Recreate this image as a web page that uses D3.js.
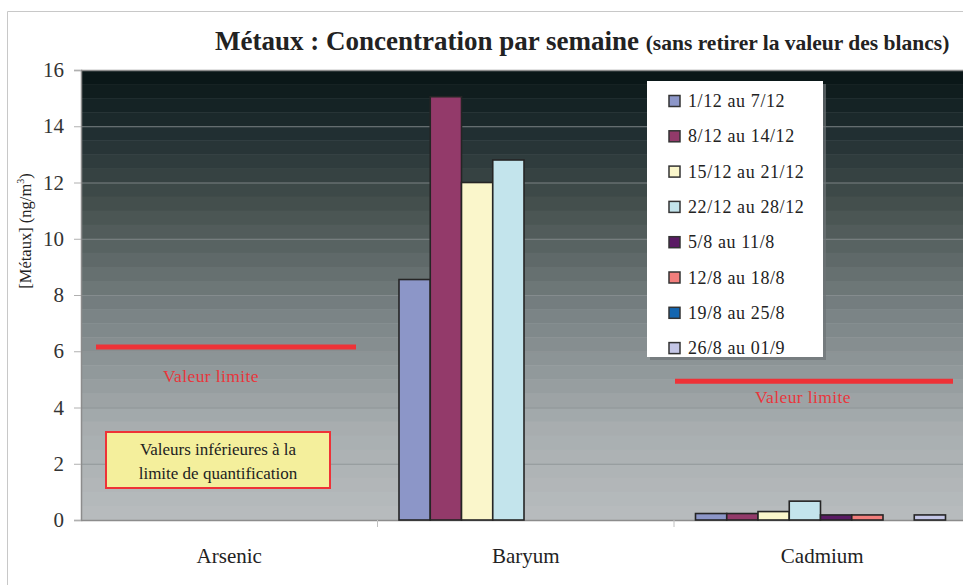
<!DOCTYPE html>
<html>
<head>
<meta charset="utf-8">
<script src="https://cdn.jsdelivr.net/npm/d3@7"></script>
<style>
  body { margin: 0; background: #fff; }
</style>
</head>
<body>
<div id="chart"></div>
<script>
// Data
var categories = ["Arsenic", "Baryum", "Cadmium"];
var series = ["1/12 au 7/12", "8/12 au 14/12", "15/12 au 21/12", "22/12 au 28/12",
  "5/8 au 11/8", "12/8 au 18/8", "19/8 au 25/8", "26/8 au 01/9"];
var colors = ["#8c96c8", "#933a6a", "#faf6cb", "#c3e4ec", "#5a1a64", "#f27e7c", "#1466b0", "#c4c6e6"];
var arsenic = [0, 0, 0, 0, 0, 0, 0, 0];
var baryum = [8.55, 15.05, 12.0, 12.8, 0, 0, 0, 0];
var cadmium = [0.23, 0.23, 0.3, 0.67, 0.18, 0.18, 0, 0.18];
var yTicks = [0, 2, 4, 6, 8, 10, 12, 14, 16];
// limit values (drawn lines) for Arsenic and Cadmium
var limits = [{ cat: "Arsenic", value: 6.15 }, { cat: "Cadmium", value: 4.93 }];

var values = [arsenic, baryum, cadmium];
var FONT = "'Liberation Serif'";

var W = 963, H = 585;
var margin = { top: 70, left: 81, bottom: 65 };
var plotBottom = H - margin.bottom;

var svg = d3.select("#chart").append("svg")
  .attr("width", W).attr("height", H);

// outer frame
svg.append("path")
  .attr("d", "M7.5," + H + " V11.5 H" + W)
  .attr("fill", "none").attr("stroke", "#c8c8c8").attr("stroke-width", 1);

var y = d3.scaleLinear().domain([0, 16]).range([plotBottom, margin.top]);
var x0 = d3.scaleBand().domain(categories).range([margin.left, margin.left + 3 * 296.5]);
var x1 = d3.scaleBand().domain(series).range([21.5, 271.5]);

// banded background gradient
var bg = d3.scaleLinear()
  .domain([0, 0.12, 0.3, 0.55, 0.8, 1])
  .range(["#0a1718", "#1f2d30", "#46514f", "#7b8486", "#a7adaf", "#b7bbbd"])
  .interpolate(d3.interpolateRgb);
var nBands = 32;
var bandH = (plotBottom - margin.top) / nBands;
svg.append("g").selectAll("rect")
  .data(d3.range(nBands))
  .join("rect")
  .attr("x", margin.left).attr("width", W - margin.left)
  .attr("y", function (d) { return margin.top + d * bandH; })
  .attr("height", bandH + 0.5)
  .attr("fill", function (d) { return bg(d / (nBands - 1)); });

// grid lines
svg.append("g").selectAll("line")
  .data(yTicks.slice(1, -1))
  .join("line")
  .attr("x1", margin.left).attr("x2", W)
  .attr("y1", function (d) { return y(d) + 0.5; })
  .attr("y2", function (d) { return y(d) + 0.5; })
  .attr("stroke", "#8a9092").attr("stroke-width", 1).attr("opacity", 0.8);

// top border of plot
svg.append("line")
  .attr("x1", margin.left).attr("x2", W)
  .attr("y1", margin.top + 0.5).attr("y2", margin.top + 0.5)
  .attr("stroke", "#8c8c8c").attr("stroke-width", 1.5);

// Y axis
var yAxis = svg.append("g")
  .attr("transform", "translate(" + margin.left + ",0)")
  .call(d3.axisLeft(y).tickValues(yTicks).tickSize(7).tickPadding(10));
yAxis.attr("font-family", null);
yAxis.select(".domain").attr("stroke", "#8c8c8c").attr("stroke-width", 1.5);
yAxis.selectAll(".tick line").attr("stroke", "#b0b0b0");
yAxis.selectAll(".tick text")
  .style("font-family", FONT).style("font-size", "21px").attr("fill", "#333");

// X axis
var xAxis = svg.append("g")
  .attr("transform", "translate(0," + plotBottom + ")")
  .call(d3.axisBottom(x0).tickSize(0).tickPadding(28));
xAxis.attr("font-family", null);
xAxis.select(".domain").attr("stroke", "#8c8c8c").attr("stroke-width", 1.5);
xAxis.selectAll(".tick text")
  .style("font-family", FONT).style("font-size", "21px").attr("fill", "#222");
// category separators
svg.append("g").selectAll("line")
  .data(categories.slice(1))
  .join("line")
  .attr("x1", function (d) { return x0(d); })
  .attr("x2", function (d) { return x0(d); })
  .attr("y1", plotBottom).attr("y2", plotBottom + 7)
  .attr("stroke", "#c0c0c0");

// Bars
var groups = svg.append("g").selectAll("g")
  .data(categories)
  .join("g")
  .attr("transform", function (d) { return "translate(" + x0(d) + ",0)"; });

groups.selectAll("rect")
  .data(function (d, i) {
    return values[i].map(function (v, j) { return { key: series[j], value: v, idx: j }; })
      .filter(function (e) { return e.value > 0; });
  })
  .join("rect")
  .attr("x", function (d) { return x1(d.key); })
  .attr("width", x1.bandwidth())
  .attr("y", function (d) { return y(d.value); })
  .attr("height", function (d) { return y(0) - y(d.value); })
  .attr("fill", function (d) { return colors[d.idx]; })
  .attr("stroke", "#252525").attr("stroke-width", 1.6);

// Limit lines
var limitSpan = { Arsenic: [15, 275], Cadmium: [1, 279] };
limits.forEach(function (l) {
  var xs = limitSpan[l.cat];
  svg.append("line")
    .attr("x1", x0(l.cat) + xs[0]).attr("x2", x0(l.cat) + xs[1])
    .attr("y1", y(l.value)).attr("y2", y(l.value))
    .attr("stroke", "#ee3237").attr("stroke-width", 5);
});
svg.append("text")
  .attr("x", x0("Arsenic") + 130).attr("y", y(limits[0].value) + 35)
  .attr("text-anchor", "middle").attr("fill", "#e8363c")
  .style("font-family", FONT).style("font-size", "17.5px").style("letter-spacing", "0.4px")
  .text("Valeur limite");
svg.append("text")
  .attr("x", x0("Cadmium") + 129).attr("y", y(limits[1].value) + 22)
  .attr("text-anchor", "middle").attr("fill", "#e8363c")
  .style("font-family", FONT).style("font-size", "17.5px").style("letter-spacing", "0.4px")
  .text("Valeur limite");

// Note box
var note = svg.append("g").attr("transform", "translate(106,432)");
note.append("rect")
  .attr("width", 224).attr("height", 56)
  .attr("fill", "#f4ef9c").attr("stroke", "#ee3237").attr("stroke-width", 2);
note.selectAll("text")
  .data(["Valeurs inférieures à la", "limite de quantification"])
  .join("text")
  .attr("x", 112).attr("y", function (d, i) { return 23 + i * 24; })
  .attr("text-anchor", "middle").attr("fill", "#222")
  .style("font-family", FONT).style("font-size", "17px")
  .text(function (d) { return d; });

// Legend
var legend = svg.append("g").attr("transform", "translate(647,81)");
legend.append("rect")
  .attr("x", 3).attr("y", 3).attr("width", 176).attr("height", 276)
  .attr("fill", "#6e7476").attr("opacity", 0.7);
legend.append("rect")
  .attr("width", 176).attr("height", 276).attr("fill", "#fff");
var items = legend.selectAll("g.item")
  .data(series)
  .join("g").attr("class", "item")
  .attr("transform", function (d, i) { return "translate(22," + (20 + i * 35.3) + ")"; });
items.append("rect")
  .attr("x", 0).attr("y", -5.5).attr("width", 11).attr("height", 11)
  .attr("fill", function (d, i) { return colors[i]; })
  .attr("stroke", "#333").attr("stroke-width", 1.5);
items.append("text")
  .attr("x", 19).attr("y", 6)
  .attr("fill", "#222")
  .style("font-family", FONT).style("font-size", "18px").style("letter-spacing", "0.6px")
  .text(function (d) { return d; });

// Title
var title = svg.append("text").attr("x", 215).attr("y", 50)
  .attr("fill", "#222")
  .style("font-family", FONT).style("font-weight", "bold");
title.append("tspan").style("font-size", "27px").text("Métaux : Concentration par semaine ");
title.append("tspan").style("font-size", "21.5px").text("(sans retirer la valeur des blancs)");

// Y axis title
var yt = svg.append("text")
  .attr("transform", "translate(31,231) rotate(-90)")
  .attr("text-anchor", "middle").attr("fill", "#222")
  .style("font-family", FONT).style("font-size", "16.5px");
yt.append("tspan").text("[Métaux] (ng/m");
yt.append("tspan").style("font-size", "10px").attr("dy", -7).text("3");
yt.append("tspan").attr("dy", 7).text(")");
</script>
</body>
</html>
